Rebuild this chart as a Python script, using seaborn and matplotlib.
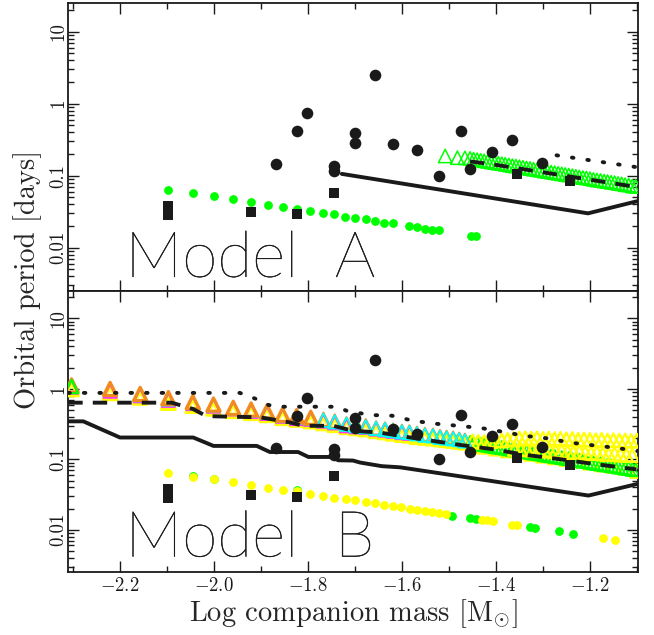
import matplotlib
matplotlib.use("Agg")
import matplotlib.pyplot as plt
import matplotlib.ticker as mticker
import matplotlib.patheffects as pe
import numpy as np
import seaborn as sns

# observed systems (black circles and squares, same in both panels)
obs_circ_x = [-1.869, -1.824, -1.801, -1.745, -1.745, -1.699, -1.699, -1.657,
              -1.619, -1.567, -1.522, -1.474, -1.455, -1.408, -1.365, -1.301]
obs_circ_p = [0.147, 0.418, 0.736, 0.138, 0.117, 0.388, 0.282, 2.53,
              0.273, 0.228, 0.100, 0.422, 0.125, 0.215, 0.313, 0.152]
obs_sq_x = [-2.097, -2.097, -1.921, -1.823, -1.745, -1.355, -1.242]
obs_sq_p = [0.0383, 0.0282, 0.031, 0.0291, 0.0575, 0.1057, 0.0844]

# Model A: green dots
dotA_x = [-2.097, -2.045, -1.999, -1.959, -1.921, -1.886, -1.853, -1.823, -1.795,
          -1.769, -1.744, -1.721, -1.699, -1.677, -1.657, -1.638, -1.619, -1.584,
          -1.567, -1.551, -1.536, -1.522, -1.454, -1.442]
dotA_p = [0.0626, 0.058, 0.0518, 0.047, 0.0432, 0.0395, 0.0367, 0.0348, 0.0327,
          0.0306, 0.0291, 0.027, 0.0259, 0.0248, 0.0235, 0.0222, 0.0218, 0.020,
          0.0192, 0.0184, 0.0178, 0.0175, 0.0147, 0.0144]

# Model A: green open triangles
triA_x = [-1.508, -1.482, -1.466, -1.455, -1.4475, -1.44, -1.4325, -1.425, -1.4175,
          -1.41, -1.4025, -1.395, -1.3875, -1.38, -1.3725, -1.365, -1.3575, -1.35,
          -1.3425, -1.335, -1.3275, -1.32, -1.3125, -1.305, -1.2975, -1.29, -1.2825,
          -1.275, -1.2675, -1.26, -1.2525, -1.245, -1.2375, -1.23, -1.2225, -1.215,
          -1.2075, -1.2, -1.1925, -1.185, -1.1775, -1.17, -1.1625, -1.155, -1.1475,
          -1.14, -1.1325, -1.125, -1.1175, -1.11, -1.1025]
triA_p = [0.188, 0.178, 0.177, 0.174, 0.170, 0.167, 0.164, 0.161, 0.158,
          0.155, 0.152, 0.149, 0.147, 0.144, 0.141, 0.138, 0.136, 0.133,
          0.131, 0.128, 0.126, 0.123, 0.121, 0.119, 0.116, 0.114, 0.112,
          0.110, 0.108, 0.106, 0.104, 0.102, 0.100, 0.098, 0.096, 0.094,
          0.093, 0.091, 0.089, 0.087, 0.086, 0.084, 0.083, 0.081, 0.080,
          0.078, 0.077, 0.075, 0.074, 0.072, 0.071]

# Model A: lines
solidA_x = [-1.728, -1.204, -1.097]
solidA_p = [0.106, 0.030, 0.0446]
dashA_x = [-1.455, -1.399, -1.097]
dashA_p = [0.158, 0.141, 0.069]
dotlA_x = [-1.271, -1.099]
dotlA_p = [0.192, 0.131]

# Model B: lines
solidB_x = [-2.31, -2.278, -2.2, -2.044, -2.001, -1.909, -1.881, -1.821, -1.799,
            -1.746, -1.736, -1.704, -1.689, -1.643, -1.604, -1.203, -1.097]
solidB_p = [0.346, 0.346, 0.204, 0.204, 0.155, 0.155, 0.127, 0.127, 0.108,
            0.108, 0.097, 0.096, 0.090, 0.080, 0.077, 0.0306, 0.045]
dashB_x = [-2.31, -2.09, -2.045, -2.016, -1.902, -1.838, -1.81, -1.746, -1.704,
           -1.647, -1.604, -1.533, -1.470, -1.406, -1.335, -1.271, -1.186, -1.101]
dashB_p = [0.637, 0.637, 0.52, 0.41, 0.395, 0.334, 0.299, 0.299, 0.254,
           0.240, 0.215, 0.182, 0.158, 0.139, 0.115, 0.102, 0.085, 0.072]
dotlB_x = [-2.31, -1.945, -1.923, -1.902, -1.884, -1.860, -1.739, -1.718, -1.668,
           -1.621, -1.576, -1.526, -1.480, -1.430, -1.384, -1.338, -1.289, -1.243,
           -1.193, -1.143, -1.099]
dotlB_p = [0.877, 0.877, 0.776, 0.681, 0.590, 0.558, 0.558, 0.49, 0.426,
           0.416, 0.352, 0.319, 0.299, 0.277, 0.245, 0.215, 0.198, 0.173,
           0.158, 0.145, 0.131]

# Model B: yellow and green dots
dotBy_x = [-2.097, -2.045, -2.0, -1.959, -1.921, -1.886, -1.853, -1.823, -1.796,
           -1.769, -1.744, -1.72, -1.699, -1.677, -1.657, -1.638, -1.618, -1.601,
           -1.583, -1.567, -1.551, -1.536, -1.521, -1.507, -1.429, -1.418, -1.407,
           -1.365, -1.355, -1.172, -1.147]
dotBy_p = [0.063, 0.0566, 0.0518, 0.0474, 0.0436, 0.0398, 0.0369, 0.0357, 0.0324,
           0.0306, 0.0286, 0.0275, 0.0262, 0.0249, 0.0240, 0.0228, 0.0215, 0.0208,
           0.0200, 0.0191, 0.0185, 0.0177, 0.0171, 0.0166, 0.0139, 0.0136, 0.0132,
           0.0118, 0.0117, 0.0076, 0.0072]
dotBg_x = [-2.045, -1.999, -1.823, -1.493, -1.455, -1.443, -1.327, -1.317, -1.266, -1.236]
dotBg_p = [0.0575, 0.0525, 0.0362, 0.0158, 0.0147, 0.0144, 0.0109, 0.0107, 0.0095, 0.0088]

# Model B: open triangles, sparse part (several colours)
triB_x = [-2.303, -2.221, -2.157, -2.097, -2.045, -2.001, -1.959, -1.921, -1.887,
          -1.854, -1.824, -1.794, -1.767, -1.743, -1.718, -1.697, -1.677, -1.655,
          -1.636, -1.619, -1.600, -1.584, -1.568, -1.551, -1.534, -1.519, -1.505,
          -1.491, -1.478, -1.466]
triB_orange = [1.12, 1.0, 0.85, 0.74, 0.65, 0.60, 0.54, 0.51, 0.48, 0.43, 0.41, 0.39,
               0.37, 0.35, 0.32, 0.31, 0.30, 0.28, 0.27, 0.26, 0.25, 0.245, 0.235,
               0.225, 0.22, 0.21, 0.205, 0.20, 0.193, 0.186]
triB_yellow = [1.0, 0.88, 0.76, 0.64, 0.58, 0.53, 0.49, 0.46, 0.43, 0.39, 0.37, 0.35,
               0.33, 0.31, 0.29, 0.28, 0.27, 0.255, 0.245, 0.235, 0.225, 0.22, 0.21,
               0.205, 0.20, 0.195, 0.19, 0.185, 0.18, 0.175]
triB_cyan = [1.08, 0.97, 0.83, 0.72, 0.64, 0.59, 0.53, 0.50, 0.47, 0.42, 0.40, 0.38,
             0.36, 0.34, 0.315, 0.30, 0.29, 0.275, 0.265, 0.255, 0.245, 0.24, 0.23,
             0.22, 0.215, 0.205, 0.20, 0.195, 0.19, 0.182]
triB_magenta = [1.06, 0.93, 0.80, 0.69, 0.62, 0.57, 0.52, 0.48, 0.45, 0.41, 0.38,
                0.37, 0.35, 0.33, 0.30, 0.29, 0.285, 0.27, 0.26, 0.25, 0.24, 0.235]

# Model B: dense yellow triangles at high mass
triBy_up_x = [-1.45, -1.4375, -1.425, -1.4125, -1.40, -1.3875, -1.375, -1.3625, -1.35,
              -1.3375, -1.325, -1.3125, -1.30, -1.2875, -1.275, -1.2625, -1.25, -1.2375,
              -1.225, -1.2125, -1.20, -1.1875, -1.175, -1.1625, -1.15, -1.1375, -1.125,
              -1.1125, -1.10]
triBy_up_p = [0.18, 0.178, 0.176, 0.18, 0.184, 0.186, 0.19, 0.195, 0.198, 0.2, 0.197,
              0.2, 0.196, 0.198, 0.195, 0.197, 0.193, 0.195, 0.19, 0.193, 0.19, 0.188,
              0.19, 0.186, 0.188, 0.185, 0.186, 0.183, 0.185]
triBy_mid_x = [-1.36, -1.3475, -1.335, -1.3225, -1.31, -1.2975, -1.285, -1.2725, -1.26,
               -1.2475, -1.235, -1.2225, -1.21, -1.1975, -1.185, -1.1725, -1.16, -1.1475,
               -1.135, -1.1225, -1.11]
triBy_mid_p = [0.14, 0.138, 0.14, 0.136, 0.134, 0.136, 0.132, 0.13, 0.132, 0.128, 0.126,
               0.128, 0.124, 0.122, 0.124, 0.12, 0.118, 0.12, 0.116, 0.115, 0.114]
triBy_low_x = [-1.45, -1.425, -1.40, -1.375, -1.35, -1.325, -1.30, -1.275, -1.25,
               -1.225, -1.20, -1.175, -1.15, -1.125, -1.10]
triBy_low_p = [0.158, 0.150, 0.141, 0.133, 0.126, 0.119, 0.112, 0.106, 0.100,
               0.095, 0.089, 0.084, 0.080, 0.075, 0.068]

GREEN = "#00ff00"
YELLOW = "#ffff00"
ORANGE = "#f28a1e"
CYAN = "#00ffff"
MAGENTA = "#ff33ff"

sns.set_theme(style="ticks")
plt.rcParams["font.family"] = ["cmr10", "DejaVu Serif"]
plt.rcParams["mathtext.fontset"] = "cm"
plt.rcParams["axes.formatter.use_mathtext"] = True
plt.rcParams["axes.unicode_minus"] = True

fig = plt.figure(figsize=(6.54, 6.35), dpi=100)
axA = fig.add_axes([0.1044, 0.5417, 0.8716, 0.454])
axB = fig.add_axes([0.1044, 0.0997, 0.8716, 0.442])

DASH = (0, (3.7, 2.6))
DOT = (0, (0.4, 3.6))


def line(ax, x, p, ls):
    sns.lineplot(x=x, y=p, ax=ax, color="k", lw=2.8, linestyle=ls,
                 sort=False, estimator=None, zorder=5,
                 dash_capstyle="round" if ls is DOT else "butt")


def tris(ax, x, p, color, lw=1.2, z=3):
    sns.scatterplot(x=x, y=p, ax=ax, marker="^", s=92, facecolor="none",
                    edgecolor=color, linewidth=lw, zorder=z)


def observed(ax):
    sns.scatterplot(x=obs_circ_x, y=obs_circ_p, ax=ax, marker="o", s=70,
                    color="k", edgecolor="k", linewidth=0, zorder=7)
    sns.scatterplot(x=obs_sq_x, y=obs_sq_p, ax=ax, marker="s", s=62,
                    color="k", edgecolor="k", linewidth=0, zorder=7)


# ---- Model A
sns.scatterplot(x=dotA_x, y=dotA_p, ax=axA, marker="o", s=40, color=GREEN,
                edgecolor=GREEN, linewidth=0, zorder=4)
tris(axA, triA_x, triA_p, GREEN, lw=1.1)
line(axA, solidA_x, solidA_p, "-")
line(axA, dashA_x, dashA_p, DASH)
line(axA, dotlA_x, dotlA_p, DOT)
observed(axA)

# ---- Model B
sns.scatterplot(x=dotBg_x, y=dotBg_p, ax=axB, marker="o", s=40, color=GREEN,
                edgecolor=GREEN, linewidth=0, zorder=4)
sns.scatterplot(x=dotBy_x, y=dotBy_p, ax=axB, marker="o", s=40, color=YELLOW,
                edgecolor=YELLOW, linewidth=0, zorder=4)
tris(axB, triBy_low_x, triBy_low_p, YELLOW, lw=1.6)
tris(axB, triA_x, triA_p, GREEN, lw=1.1)
tris(axB, triBy_mid_x, triBy_mid_p, YELLOW, lw=1.6)
tris(axB, triBy_up_x, triBy_up_p, YELLOW, lw=1.6)
tris(axB, triB_x, triB_yellow, YELLOW, lw=2.6)
tris(axB, triB_x[:len(triB_magenta)], triB_magenta, MAGENTA, lw=1.4)
tris(axB, triB_x[2:12], triB_cyan[2:12], CYAN, lw=1.4)
tris(axB, triB_x[:12], triB_orange[:12], ORANGE, lw=2.2)
tris(axB, triB_x[12:], triB_orange[12:], ORANGE, lw=1.4)
tris(axB, triB_x[12:], triB_cyan[12:], CYAN, lw=1.3)
tris(axB, triB_x[:1], triB_cyan[:1], GREEN, lw=1.6)
line(axB, solidB_x, solidB_p, "-")
line(axB, dashB_x, dashB_p, DASH)
line(axB, dotlB_x, dotlB_p, DOT)
observed(axB)

for ax in (axA, axB):
    ax.set_yscale("log")
    ax.set_xlim(-2.31, -1.097)
    ax.set_ylabel("")
    ax.set_xlabel("")
    ax.xaxis.set_major_locator(mticker.MultipleLocator(0.2))
    ax.xaxis.set_minor_locator(mticker.MultipleLocator(0.1))
    ax.yaxis.set_major_locator(mticker.FixedLocator([0.01, 0.1, 1, 10]))
    ax.yaxis.set_minor_locator(mticker.LogLocator(base=10, subs=np.arange(2, 10)))
    ax.yaxis.set_major_formatter(mticker.FixedFormatter(["0.01", "0.1", "1", "10"]))
    ax.tick_params(which="both", direction="in", top=True, right=True,
                   colors="k", labelsize=13.5, width=1.0)
    ax.tick_params(which="major", length=8)
    ax.tick_params(which="minor", length=4)
    ax.tick_params(axis="y", labelrotation=90, pad=1)
    for lab in ax.get_yticklabels():
        lab.set_verticalalignment("center")
    for s in ax.spines.values():
        s.set_linewidth(1.3)
        s.set_color("k")

axA.set_ylim(0.0025, 25.3)
axB.set_ylim(0.00254, 24.5)
axA.tick_params(labelbottom=False)

thin = [pe.withStroke(linewidth=0.35, foreground="k")]
axA.text(0.1, 0.049, "Model  A", transform=axA.transAxes, fontsize=46,
         family="Lato", fontweight=100, color="k",
         va="baseline", ha="left", path_effects=thin)
axB.text(0.1, 0.054, "Model  B", transform=axB.transAxes, fontsize=46,
         family="Lato", fontweight=100, color="k",
         va="baseline", ha="left", path_effects=thin)

axB.set_xlabel(r"Log companion mass [$\mathrm{M}_{\odot}$]", fontsize=20.5, labelpad=2)
fig.text(0.042, 0.56, "Orbital period [days]", rotation=90, fontsize=20.5,
         ha="center", va="center")

fig.savefig("out.png", dpi=100)
